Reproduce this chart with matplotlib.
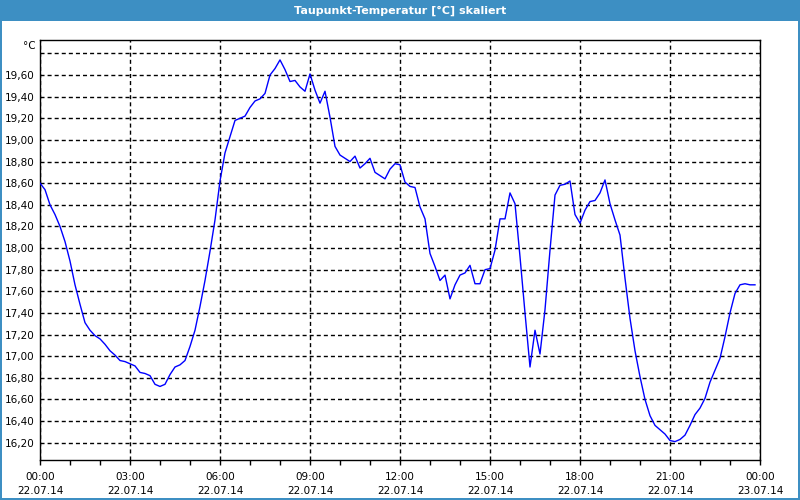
import matplotlib
matplotlib.use("Agg")
import matplotlib.pyplot as plt
from matplotlib.patches import Rectangle

# 10-minute samples, 22.07.14 00:00 .. 23:50
step_hours = 1 / 6
dew_point = [
    18.60, 18.54, 18.40, 18.31, 18.20, 18.06, 17.88, 17.66, 17.48, 17.31,
    17.24, 17.19, 17.16, 17.11, 17.05, 17.01, 16.96, 16.95, 16.93, 16.91,
    16.85, 16.84, 16.82, 16.74, 16.72, 16.74, 16.83, 16.90, 16.92, 16.96,
    17.09, 17.24, 17.46, 17.70, 17.97, 18.26, 18.62, 18.88, 19.03, 19.18,
    19.20, 19.22, 19.30, 19.36, 19.38, 19.43, 19.60, 19.66, 19.74, 19.65,
    19.54, 19.55, 19.49, 19.45, 19.61, 19.46, 19.34, 19.45, 19.21, 18.94,
    18.86, 18.83, 18.80, 18.85, 18.74, 18.78, 18.83, 18.70, 18.67, 18.64,
    18.73, 18.78, 18.77, 18.61, 18.57, 18.56, 18.38, 18.27, 17.95, 17.83,
    17.70, 17.75, 17.53, 17.66, 17.75, 17.77, 17.84, 17.67, 17.67, 17.80,
    17.81, 17.98, 18.27, 18.27, 18.51, 18.41, 17.92, 17.40, 16.90, 17.24,
    17.02, 17.43, 17.98, 18.49, 18.58, 18.59, 18.62, 18.31, 18.23, 18.35,
    18.43, 18.44, 18.51, 18.63, 18.41, 18.26, 18.12, 17.72, 17.35, 17.05,
    16.81, 16.60, 16.45, 16.36, 16.32, 16.28, 16.22, 16.21, 16.23, 16.27,
    16.36, 16.46, 16.52, 16.61, 16.76, 16.87, 16.98, 17.18, 17.40, 17.58,
    17.66, 17.67, 17.66, 17.66,
]
hours = [i * step_hours for i in range(len(dew_point))]

x_ticks = [0, 3, 6, 9, 12, 15, 18, 21, 24]
x_labels = ["00:00\n22.07.14", "03:00\n22.07.14", "06:00\n22.07.14",
            "09:00\n22.07.14", "12:00\n22.07.14", "15:00\n22.07.14",
            "18:00\n22.07.14", "21:00\n22.07.14", "00:00\n23.07.14"]
y_ticks = [16.2, 16.4, 16.6, 16.8, 17.0, 17.2, 17.4, 17.6, 17.8, 18.0,
           18.2, 18.4, 18.6, 18.8, 19.0, 19.2, 19.4, 19.6, 19.8]
title = "Taupunkt-Temperatur [°C] skaliert"
unit = "°C"

W, H = 800, 500
blue = "#3d8fc3"
fig = plt.figure(figsize=(8, 5), dpi=100)
fig.patch.set_facecolor(blue)
fig.patches.append(Rectangle((2 / W, 2 / H), 796 / W, (H - 21 - 2) / H,
                             transform=fig.transFigure, facecolor="white",
                             edgecolor="none", zorder=-5))
fig.text(0.5, 1 - 10.5 / H, title, color="white", fontweight="bold",
         fontsize=8, ha="center", va="center", family="DejaVu Sans")

ax = fig.add_axes([40 / W, 40 / H, 720 / W, 420 / H])
ax.set_zorder(5)
ax.set_facecolor("white")
ax.plot(hours, dew_point, color="#0000ff", lw=1.0, zorder=3)
ax.set_xlim(0, 24)
ax.set_ylim(16.04, 19.924)

ax.set_xticks(x_ticks)
ax.set_xticklabels(x_labels, fontsize=7.5, linespacing=1.55)
ax.set_xticks(range(0, 25), minor=True)
ax.tick_params(axis="x", which="both", direction="out", length=3.5,
               width=1, color="black", pad=5)
ax.set_yticks(y_ticks)
ax.set_yticklabels([f"{v:.2f}".replace(".", ",") if v < 19.7 else ""
                    for v in y_ticks], fontsize=7.5)
ax.tick_params(axis="y", length=0, pad=4)

ax.grid(True, which="major", color="black", linestyle=(0, (2.9, 2.2)),
        linewidth=1.0)
for s in ax.spines.values():
    s.set_color("black")
    s.set_linewidth(1.0)

fig.text(36 / W, 1 - 46 / H, unit, ha="right", va="center", fontsize=7.5,
         zorder=10)

fig.savefig("out.png", dpi=100, facecolor=fig.get_facecolor())
